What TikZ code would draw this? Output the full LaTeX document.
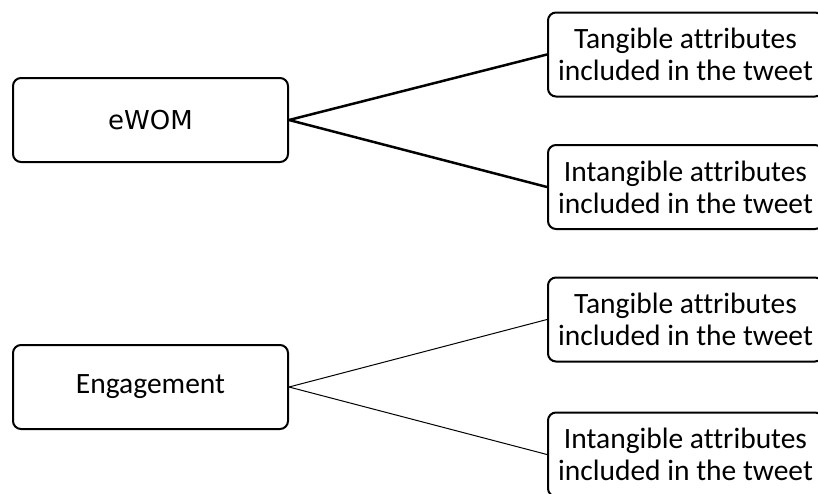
\documentclass[tikz,border=0pt]{standalone}
\usepackage{fontspec}
\setmainfont[Ligatures=NoCommon]{Carlito}
\newfontfamily\dejavu{DejaVu Sans}
\begin{document}
\begin{tikzpicture}[x=1pt,y=-1pt]
\tikzstyle{every node}+=[inner sep=0pt]
\tikzstyle{factor}=[draw=black, line width=2pt, rounded corners=8pt, minimum width=275pt, minimum height=84pt, align=center, font=\fontsize{29.5}{32}\selectfont]
\useasboundingbox (0,0) rectangle (818,493);
% eWOM group
\node [factor] (ewom) at (150.5,120) {\dejavu\fontsize{26}{27}\selectfont eWOM};
\node [factor] (ewomtan) at (685.5,54.5) {Tangible attributes\\included in the tweet};
\node [factor] (ewomint) at (685.5,187) {Intangible attributes\\included in the tweet};
\draw [line width=2.5pt] (ewom.east) -- (ewomtan.west);
\draw [line width=2.5pt] (ewom.east) -- (ewomint.west);
% Engagement group
\node [factor] (eng) at (150.5,387) {Engagement};
\node [factor] (engtan) at (685.5,319.5) {Tangible attributes\\included in the tweet};
\node [factor] (engint) at (685.5,454.5) {Intangible attributes\\included in the tweet};
\draw [line width=1pt] (eng.east) -- (engtan.west);
\draw [line width=1pt] (eng.east) -- (engint.west);
\end{tikzpicture}
\end{document}
